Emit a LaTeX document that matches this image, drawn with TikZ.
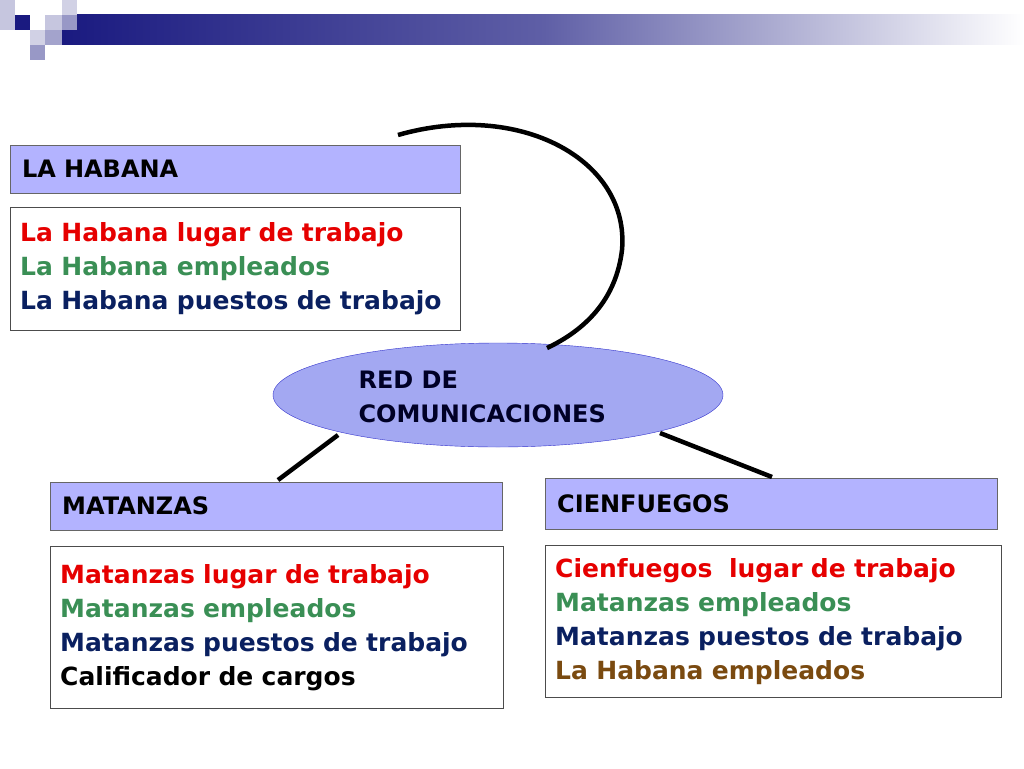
\documentclass[tikz,border=0pt]{standalone}
\usepackage{fontspec}
\setmainfont{DejaVu Sans}
\usetikzlibrary{shapes.geometric}
\definecolor{boxfill}{HTML}{B3B3FF}
\definecolor{ovalfill}{HTML}{A3A8F2}
\definecolor{ovalline}{HTML}{3333CC}
\definecolor{txtred}{HTML}{E60000}
\definecolor{txtgreen}{HTML}{3A8F55}
\definecolor{txtnavy}{HTML}{0A2060}
\definecolor{txtbrown}{HTML}{7A4A10}
\definecolor{deco}{HTML}{1A1A80}
\begin{document}
\begin{tikzpicture}[x=1pt,y=-1pt,
  title/.style={draw=black!60,fill=boxfill,anchor=north west,minimum height=48pt,text width=426pt,inner xsep=12pt,font=\fontsize{24}{28}\selectfont\bfseries,align=left},
  list/.style={draw=black!70,fill=white,anchor=north west,text width=430pt,inner xsep=10pt,font=\fontsize{25}{34}\selectfont\bfseries,align=left},
  link/.style={line width=4.5pt,black}]
  \useasboundingbox (0,0) rectangle (1024,768);
  % corner decoration
  \shade[left color=deco,right color=white,middle color=deco!70] (62,15) rectangle (1024,45);
  \fill[deco!25] (0,0) rectangle (15,30);
  \fill[deco] (15,15) rectangle (30,30);
  \fill[deco!20] (62,0) rectangle (77,15);
  \fill[deco!25] (45,15) rectangle (62,30);
  \fill[deco!45] (62,15) rectangle (77,30);
  \fill[deco!20] (30,30) rectangle (45,45);
  \fill[deco!40] (45,30) rectangle (62,45);
  \fill[deco!45] (30,45) rectangle (45,60);
  % boxes
  \node[title] (habana) at (10,145) {LA HABANA};
  \node[list,minimum height=123pt] (habanalist) at (10,207) {\color{txtred}La Habana lugar de trabajo\\\color{txtgreen}La Habana empleados\\\color{txtnavy}La Habana puestos de trabajo};
  \node[ellipse,draw=ovalline,fill=ovalfill,minimum width=450pt,minimum height=104pt] (red) at (498,395) {};
  \node[anchor=west,font=\fontsize{24}{34}\selectfont\bfseries,align=left,text=black!85!blue] (redtxt) at (355,397) {RED DE\\COMUNICACIONES};
  \node[title,text width=428pt] (matanzas) at (50,482) {MATANZAS};
  \node[list,minimum height=162pt,text width=433pt] (matanzaslist) at (50,546) {\color{txtred}Matanzas lugar de trabajo\\\color{txtgreen}Matanzas empleados\\\color{txtnavy}Matanzas puestos de trabajo\\\color{black}Calificador de cargos};
  \node[title,text width=428pt,minimum height=51pt] (cienfuegos) at (545,478) {CIENFUEGOS};
  \node[list,minimum height=152pt,text width=436pt] (cienfuegoslist) at (545,545) {\color{txtred}Cienfuegos\ \ lugar de trabajo\\\color{txtgreen}Matanzas empleados\\\color{txtnavy}Matanzas puestos de trabajo\\\color{txtbrown}La Habana empleados};
  % connectors
  \coordinate (arcstart) at (398,135);
  \coordinate (arcend) at (547,348);
  \coordinate (lefttop) at (338,435);
  \coordinate (leftfoot) at (278,480);
  \coordinate (righttop) at (660,433);
  \coordinate (rightfoot) at (772,477);
  \draw[link] (arcstart) .. controls (520,100) and (630,160) .. (622,250) .. controls (616,300) and (585,330) .. (arcend);
  \draw[link] (lefttop) -- (leftfoot);
  \draw[link] (righttop) -- (rightfoot);
\end{tikzpicture}
\end{document}
